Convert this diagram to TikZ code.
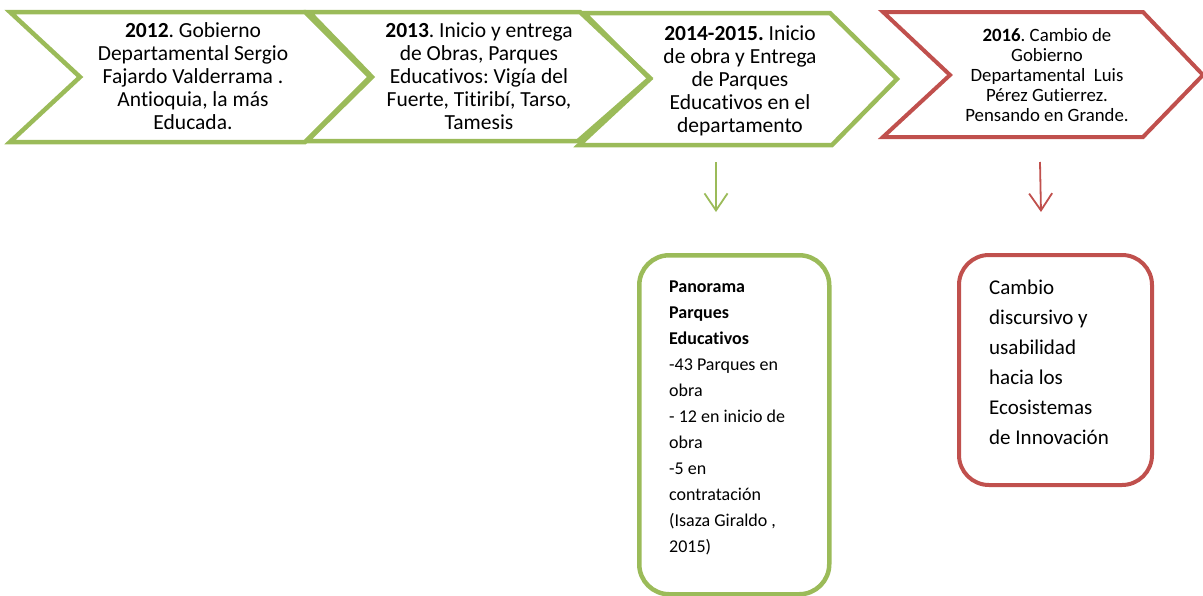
\documentclass[tikz,border=0pt]{standalone}
\usepackage{fontspec}
\setmainfont{Carlito}[Ligatures=NoCommon]
\usetikzlibrary{arrows.meta,positioning}
\definecolor{olivegreen}{RGB}{155,187,89}
\definecolor{brickred}{RGB}{192,80,77}
\frenchspacing

\begin{document}
\begin{tikzpicture}[
                x=1pt, y=-1pt,
                chevron/.style={line width=4.5pt, line join=miter},
                yeartext/.style={align=flush center, inner sep=0pt,
                    font=\fontsize{21.5}{23}\selectfont},
                panel/.style={draw, line width=4.5pt, rounded corners=30pt,
                    inner sep=0pt, anchor=north west},
                paneltext/.style={align=flush left, inner sep=0pt, anchor=north west},
                down/.style={line width=1.8pt,
                    -{Straight Barb[length=17pt,width=23pt]}}]
            \useasboundingbox (0,0) rectangle (1203,595);
            % timeline chevrons
            \draw[chevron, olivegreen] (10,12) -- (305,12) -- (370,77) -- (305,142)
                -- (10,142) -- (80,77) -- cycle;
            \draw[chevron, olivegreen] (309,12) -- (580,12) -- (650,78) -- (578,141)
                -- (307,141) -- (372,77) -- cycle;
            \draw[chevron, olivegreen] (584,13) -- (830,13) -- (897,79) -- (832,145)
                -- (579,145) -- (650,79) -- cycle;
            \draw[chevron, brickred, line width=4pt] (883,12) -- (1143,12) -- (1203,75)
                -- (1143,137) -- (883,137) -- (950,75) -- cycle;
            \node[yeartext] (y2012) at (193,76) {\textbf{2012}. Gobierno\\
                Departamental Sergio\\Fajardo Valderrama .\\Antioquia, la más\\Educada.};
            \node[yeartext] (y2013) at (479,76) {\textbf{2013}. Inicio y entrega\\
                de Obras, Parques\\Educativos: Vigía del\\Fuerte, Titiribí, Tarso,\\Tamesis};
            \node[yeartext] (y2014) at (740,81)
                {\textbf{2014-2015.} Inicio\\de obra y Entrega\\de Parques\\
                Educativos en el\\departamento};
            \node[yeartext, font=\fontsize{18.8}{20}\selectfont] (y2016) at (1047,75)
                {\textbf{2016}. Cambio de\\Gobierno\\Departamental~ Luis\\
                Pérez Gutierrez.\\Pensando en Grande.};
            % detail panels
            \node[panel, olivegreen, minimum width=190pt, minimum height=339pt]
                (panorama) at (637,253) {};
            \node[paneltext, text width=130pt, font=\fontsize{18}{26}\selectfont]
                (panorama_txt) at ([xshift=32pt, yshift=-28pt]panorama.north west)
                {\textbf{Panorama}\\\textbf{Parques}\\\textbf{Educativos}\\-43 Parques en\\
                obra\\- 12 en inicio de\\obra\\-5 en\\contratación\\(Isaza Giraldo ,\\2015)};
            \node[panel, brickred, line width=4pt, minimum width=193pt, minimum height=230pt]
                (cambio) at (957,253) {};
            \node[paneltext, text width=135pt, font=\fontsize{21}{30}\selectfont]
                (cambio_txt) at ([xshift=32pt, yshift=-27pt]cambio.north west)
                {Cambio\\discursivo y\\usabilidad\\hacia los\\Ecosistemas\\de Innovación};
            \coordinate (g_top) at (716,162);
            \coordinate (g_bot) at (716,212);
            \coordinate (r_top) at (1040,162);
            \coordinate (r_bot) at (1041,212);
            \draw[down, olivegreen] (g_top) -- (g_bot);
            \draw[down, brickred] (r_top) -- (r_bot);
        \end{tikzpicture}
\end{document}
